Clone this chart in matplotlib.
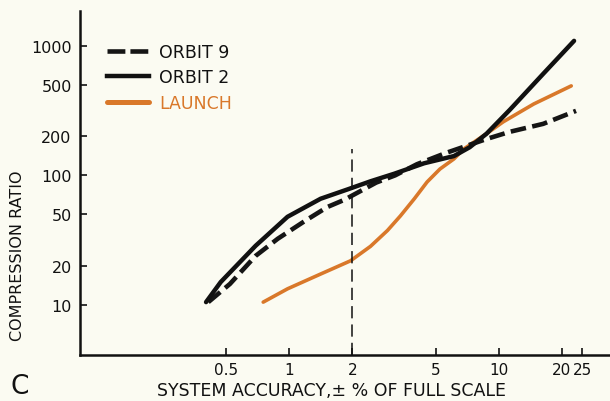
import matplotlib
matplotlib.use('Agg')
import matplotlib.pyplot as plt
from matplotlib.lines import Line2D

# accuracy (% of full scale) vs compression ratio
orbit2_x = [0.40, 0.47, 0.69, 0.98, 1.41, 1.90, 2.44, 3.17, 4.40, 6.11, 7.27, 8.75, 11.3, 16.3, 22.9]
orbit2_y = [10.5, 15, 28.6, 47.9, 66, 78, 90, 103, 124, 141, 165, 210, 321, 608, 1094]

orbit9_x = [0.41, 0.52, 0.69, 0.88, 1.19, 1.52, 1.84, 2.0, 2.6, 3.2, 4.07, 5.66, 8.75, 11.3, 16.3, 23.4]
orbit9_y = [10.5, 14.5, 23.9, 32.4, 44.6, 57, 65, 70, 88, 100, 122, 150, 191, 217, 250, 315]

launch_x = [0.75, 0.98, 1.41, 1.96, 2.44, 2.94, 3.39, 3.95, 4.55, 5.24, 6.11, 6.81, 8.75, 10.5, 14.7, 22.2]
launch_y = [10.5, 13.3, 17.3, 21.9, 28.3, 37.5, 48.6, 65.9, 89, 112, 134, 160, 210, 259, 356, 491]

marker_x = 2
marker_top = 160

xticks = [0.5, 1, 2, 5, 10, 20, 25]
xtick_labels = ['0.5', '1', '2', '5', '10', '20', '25']
yticks = [10, 20, 50, 100, 200, 500, 1000]

bg = '#fbfbf2'
orange = '#d9782a'

fig = plt.figure(figsize=(6.1, 4.02), dpi=100, facecolor=bg)
ax = fig.add_axes([80 / 610, 46 / 402, 530 / 610, 344 / 402], facecolor=bg)
ax.set_xscale('log')
ax.set_yscale('log')
ax.set_xlim(0.1, 34)
ax.set_ylim(4.1, 1860)

ax.plot(launch_x, launch_y, color=orange, lw=2.6, solid_capstyle='round')
ax.plot(orbit9_x, orbit9_y, color='#151515', lw=3.3, dashes=(3.4, 1.4))
ax.plot(orbit2_x, orbit2_y, color='#111111', lw=3.2, solid_capstyle='round')
ax.plot([marker_x, marker_x], [4.1, marker_top], color='#111111', lw=1.1,
        dashes=(8, 4))

for side in ['top', 'right']:
    ax.spines[side].set_visible(False)
for side in ['left', 'bottom']:
    ax.spines[side].set_linewidth(1.8)
    ax.spines[side].set_color('#111111')

ax.set_xticks(xticks)
ax.set_xticklabels(xtick_labels)
ax.set_yticks(yticks)
ax.set_yticklabels([str(v) for v in yticks])
ax.minorticks_off()
ax.tick_params(axis='both', direction='in', length=5, width=1.2,
               labelsize=11.5, colors='#111111')
ax.tick_params(axis='x', labelsize=11, pad=5)
ax.tick_params(axis='y', pad=6)

ax.set_ylabel('COMPRESSION RATIO', fontsize=11.5, color='#111111')
ax.yaxis.set_label_coords(-0.104, 0.29)
ax.set_xlabel('SYSTEM ACCURACY,\u00b1 % OF FULL SCALE', fontsize=12.5,
              color='#111111')
ax.xaxis.set_label_coords(0.474, -0.076)

handles = [
    Line2D([], [], color='#151515', lw=3.3, dashes=(3.9, 1.1)),
    Line2D([], [], color='#111111', lw=3.2),
    Line2D([], [], color=orange, lw=3.6, solid_capstyle='round'),
]
leg = ax.legend(handles, ['ORBIT 9', 'ORBIT 2', 'LAUNCH'], frameon=False,
                loc='upper left', bbox_to_anchor=(107 / 610, 1 - 44 / 402),
                bbox_transform=fig.transFigure, fontsize=12.5,
                handlelength=2.4, handletextpad=0.6, labelspacing=0.42,
                borderpad=0, borderaxespad=0)
for txt, col in zip(leg.get_texts(), ['#111111', '#111111', orange]):
    txt.set_color(col)

fig.text(10 / 610, 1 - 394 / 402, 'C', fontsize=19, color='#111111')

fig.savefig('out.png', dpi=100, facecolor=bg)
